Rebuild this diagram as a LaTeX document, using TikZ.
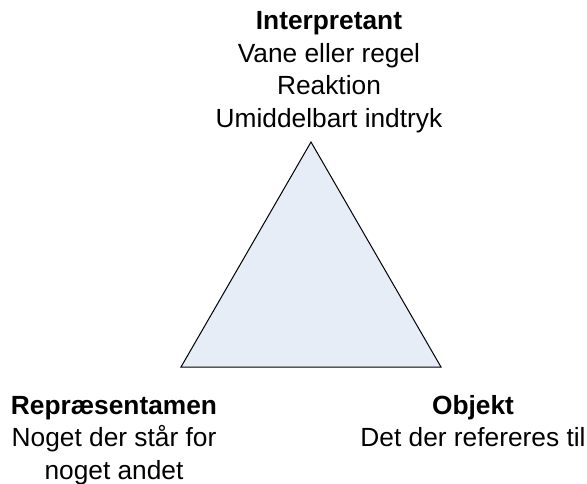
\documentclass[tikz,border=0pt]{standalone}
\usepackage{fontspec}
\setmainfont{Liberation Sans}
\definecolor{signfill}{RGB}{230,237,247}
\begin{document}
\begin{tikzpicture}[x=1pt,y=-1pt,
  vertexlabel/.style={align=center, anchor=base, inner sep=0pt,
    font=\fontsize{26.3}{32.5}\selectfont},
  triangle/.style={fill=signfill, draw=black, line width=1pt, line join=miter}]
\useasboundingbox (0,0) rectangle (587,484);
% corners of the semiotic triangle
\coordinate (top) at (311,142);
\coordinate (left) at (181,367);
\coordinate (right) at (441,367);
\filldraw[triangle] (top) -- (left) -- (right) -- cycle;
% labels of the three corners (anchored at the baseline of the last line)
\node[vertexlabel] (interpretant) at (329,127.5)
  {\textbf{Interpretant}\\Vane eller regel\\Reaktion\\Umiddelbart indtryk};
\node[vertexlabel] (representamen) at (114,479)
  {\textbf{Repræsentamen}\\Noget der står for\\noget andet};
\node[vertexlabel] (objekt) at (473,446.5)
  {\textbf{Objekt}\\Det der refereres til};
\end{tikzpicture}
\end{document}
